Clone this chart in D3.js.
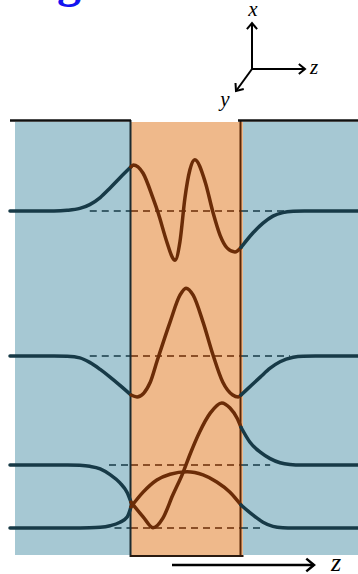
<!DOCTYPE html>
<html><head><meta charset="utf-8">
<script src="https://cdn.jsdelivr.net/npm/d3@7"></script>
<style>body{margin:0;background:#fff;overflow:hidden}</style>
</head><body><svg id="c" width="358" height="574"></svg>
<script>
// ---- data: field profiles (z in core half-widths, E normalized) ----
const modeNames = ["m3", "m2", "m1", "m0"];
const m3Left = [[-3.20,0],[-2.40,0],[-2.16,0.01],[-1.93,0.04],[-1.75,0.10],[-1.56,0.21],[-1.38,0.36],[-1.20,0.52],[-1.00,0.69]];
const m3Core = [[-1.00,0.69],[-0.96,0.72],[-0.78,0.59],[-0.60,0.20],[-0.51,-0.02],[-0.35,-0.48],[-0.25,-0.72],[-0.20,-0.77],[-0.11,-0.48],[-0.02,0.20],[0.07,0.64],[0.16,0.80],[0.35,0.45],[0.49,-0.02],[0.62,-0.38],[0.75,-0.58],[0.89,-0.64],[1.00,-0.57]];
const m3Right = [[1.00,-0.57],[1.22,-0.34],[1.40,-0.19],[1.58,-0.08],[1.76,-0.025],[1.95,-0.005],[2.15,0],[3.13,0]];

const m2Left = [[-3.20,0],[-2.40,0],[-2.16,-0.005],[-1.93,-0.03],[-1.75,-0.10],[-1.56,-0.21],[-1.38,-0.33],[-1.20,-0.46],[-1.00,-0.61]];
const m2Core = [[-1.00,-0.61],[-0.89,-0.64],[-0.65,-0.41],[-0.53,-0.09],[-0.29,0.53],[-0.11,0.95],[0.00,1.06],[0.13,0.95],[0.31,0.53],[0.49,0.02],[0.67,-0.41],[0.85,-0.61],[0.95,-0.64],[1.00,-0.61]];
const m2Right = [[1.00,-0.61],[1.20,-0.45],[1.35,-0.33],[1.53,-0.19],[1.71,-0.09],[1.95,-0.02],[2.13,-0.003],[2.35,0],[3.13,0]];

const m1Left = [[-3.20,0],[-2.15,0],[-1.93,-0.005],[-1.75,-0.02],[-1.56,-0.06],[-1.38,-0.15],[-1.20,-0.28],[-1.07,-0.43],[-1.00,-0.58]];
const m1Core = [[-1.00,-0.58],[-0.78,-0.81],[-0.60,-0.98],[-0.42,-0.83],[-0.24,-0.47],[-0.05,-0.11],[0.07,0.16],[0.25,0.52],[0.44,0.81],[0.65,0.97],[0.80,0.89],[0.93,0.73],[1.00,0.59]];
const m1Right = [[1.00,0.59],[1.16,0.36],[1.35,0.20],[1.53,0.10],[1.71,0.035],[1.89,0.008],[2.10,0],[3.13,0]];

const m0Left = [[-3.20,0],[-2.10,0],[-1.75,0.003],[-1.56,0.01],[-1.38,0.035],[-1.20,0.09],[-1.07,0.17],[-1.00,0.33]];
const m0Core = [[-1.00,0.33],[-0.78,0.56],[-0.53,0.75],[-0.29,0.84],[0.02,0.88],[0.31,0.83],[0.56,0.72],[0.80,0.56],[1.00,0.36]];
const m0Right = [[1.00,0.36],[1.22,0.20],[1.40,0.09],[1.58,0.025],[1.76,0.004],[1.95,0],[3.13,0]];

const profiles = [
  [m3Left, m3Core, m3Right],
  [m2Left, m2Core, m2Right],
  [m1Left, m1Core, m1Right],
  [m0Left, m0Core, m0Right]
];
const dashRange = [[-1.75,1.8],[-1.75,1.89],[-1.4,1.53],[-1.30,1.40]];
const axisLabels = ["x", "y", "z"];
const zLabel = "z";
const titleText = "Fig";

// ---- layout ----
const svg = d3.select("#c");
const zS = d3.scaleLinear().domain([-1, 1]).range([131, 241]);
const eS = d3.scaleLinear().domain([-1, 1]).range([64, -64]);
const baselines = {m3: 211, m2: 356, m1: 465, m0: 528};

const blue = "#a6c8d3", orange = "#efb98b", teal = "#173a47", brown = "#6b2c07";
const yTop = 122, yBot = 556;

// backgrounds
svg.append("rect").attr("x", 15).attr("y", yTop).attr("width", zS(-1) - 15).attr("height", yBot - 1 - yTop).attr("fill", blue);
svg.append("rect").attr("x", zS(1) + 2).attr("y", yTop).attr("width", 358 - zS(1) - 2).attr("height", yBot - 1 - yTop).attr("fill", blue);
svg.append("rect").attr("x", zS(-1)).attr("y", yTop).attr("width", zS(1) - zS(-1) + 2).attr("height", yBot - yTop).attr("fill", orange);

// dashed baselines
modeNames.forEach((m, i) => {
  const y = baselines[m];
  const [a, b] = dashRange[i];
  const segs = [[a, -1, teal], [-1, 1, brown], [1, b, teal]];
  segs.forEach(([s, e, c]) => {
    svg.append("line").attr("x1", zS(s)).attr("x2", zS(e)).attr("y1", y).attr("y2", y)
      .attr("stroke", c).attr("stroke-width", 1.6).attr("stroke-dasharray", "7,5");
  });
});

// borders
svg.append("line").attr("x1", zS(-1) - 0.5).attr("x2", zS(-1) - 0.5).attr("y1", 120).attr("y2", yBot + 1)
  .attr("stroke", "#1b2a30").attr("stroke-width", 2);
svg.append("line").attr("x1", zS(1) - 0.5).attr("x2", zS(1) - 0.5).attr("y1", 120).attr("y2", yBot + 1)
  .attr("stroke", "#5a2605").attr("stroke-width", 2);
svg.append("line").attr("x1", zS(-1) - 1).attr("x2", zS(1) + 2.5).attr("y1", yBot).attr("y2", yBot)
  .attr("stroke", "#2a1a10").attr("stroke-width", 2.2);
svg.append("line").attr("x1", 10).attr("x2", zS(-1)).attr("y1", 120.5).attr("y2", 120.5)
  .attr("stroke", "#111").attr("stroke-width", 2.4);
svg.append("line").attr("x1", zS(1) - 3).attr("x2", 358).attr("y1", 120.5).attr("y2", 120.5)
  .attr("stroke", "#111").attr("stroke-width", 2.4);

// field curves
modeNames.forEach((m, i) => {
  const y0 = baselines[m];
  const line = d3.line().x(d => zS(d[0])).y(d => y0 + eS(d[1])).curve(d3.curveMonotoneX);
  profiles[i].forEach((pts, r) => {
    svg.append("path").attr("d", line(pts)).attr("fill", "none")
      .attr("stroke", r === 1 ? brown : teal).attr("stroke-width", 3.5)
      .attr("stroke-linecap", "round").attr("stroke-linejoin", "round");
  });
});

// arrow helper
function arrow(x1, y1, x2, y2, w, head) {
  svg.append("line").attr("x1", x1).attr("y1", y1).attr("x2", x2).attr("y2", y2)
    .attr("stroke", "#000").attr("stroke-width", w);
  const ang = Math.atan2(y2 - y1, x2 - x1);
  const a1 = ang + Math.PI * 0.78, a2 = ang - Math.PI * 0.78;
  svg.append("path")
    .attr("d", `M${x2 + head * Math.cos(a1)},${y2 + head * Math.sin(a1)}L${x2},${y2}L${x2 + head * Math.cos(a2)},${y2 + head * Math.sin(a2)}`)
    .attr("fill", "none").attr("stroke", "#000").attr("stroke-width", w).attr("stroke-linejoin", "miter");
}
const ox = 252, oy = 69;
arrow(ox, oy, ox, 23, 2, 8);
arrow(ox, oy, 305, oy, 2, 8);
arrow(ox, oy, 236, 91, 2, 8);
const lab = svg.append("g").attr("font-family", "Liberation Serif, Times New Roman, serif").attr("font-style", "italic").attr("font-size", 21);
lab.append("text").attr("x", 253).attr("y", 16).attr("text-anchor", "middle").text(axisLabels[0]);
lab.append("text").attr("x", 225).attr("y", 106).attr("text-anchor", "middle").text(axisLabels[1]);
lab.append("text").attr("x", 310).attr("y", 74).text(axisLabels[2]);

// bottom z axis arrow
arrow(172, 565, 314, 565, 2.5, 10);
svg.append("text").attr("x", 331).attr("y", 571).attr("font-family", "Liberation Serif, Times New Roman, serif")
  .attr("font-style", "italic").attr("font-size", 26).text(zLabel);

// title (cut off at top, as in the reference)
svg.append("text").attr("x", 81).attr("y", -3).attr("text-anchor", "end")
  .attr("font-family", "Liberation Serif, Times New Roman, serif").attr("font-weight", "bold")
  .attr("font-size", 48).attr("fill", "#1414f0").text(titleText);
</script></body></html>
